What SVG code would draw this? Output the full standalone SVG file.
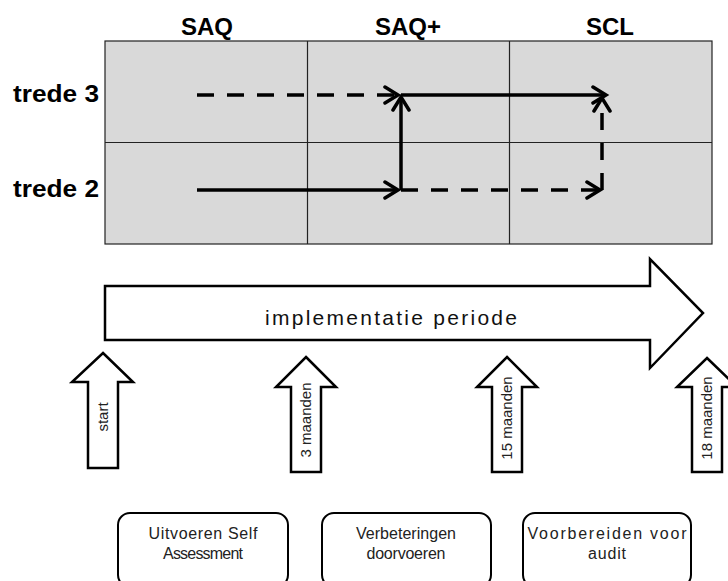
<svg xmlns="http://www.w3.org/2000/svg" width="728" height="581" viewBox="0 0 728 581">
<defs>
<style>
.hdr{font-family:"Liberation Sans",Arial,sans-serif;font-weight:bold;font-size:24px;fill:#000}
.cell{fill:#d9d9d9;stroke:#222;stroke-width:1.2}
.ln{fill:none;stroke:#000;stroke-width:3.5}
.dash{stroke-dasharray:17 13}
.big{fill:#fff;stroke:#000;stroke-width:2.5;stroke-linejoin:miter}
.lbl{font-family:"Liberation Sans",Arial,sans-serif;font-size:15px;fill:#222}
.btx{font-family:"Liberation Sans",Arial,sans-serif;font-size:16px;fill:#222}
.box{fill:#fff;stroke:#000;stroke-width:2}
</style>
<marker id="ah" markerUnits="userSpaceOnUse" markerWidth="20" markerHeight="20" viewBox="-15 -10 20 20" refX="0" refY="0" orient="auto">
<path d="M-13,-8 L0,0 L-13,8" fill="none" stroke="#000" stroke-width="3.5" stroke-linecap="round" stroke-linejoin="miter"/>
</marker>
</defs>
<rect width="728" height="581" fill="#fff"/>

<g id="headers">
<text class="hdr" x="207" y="35" text-anchor="middle">SAQ</text>
<text class="hdr" x="408" y="35" text-anchor="middle">SAQ+</text>
<text class="hdr" x="610" y="35" text-anchor="middle">SCL</text>
<text class="hdr" x="99" y="102" text-anchor="end" textLength="86" lengthAdjust="spacingAndGlyphs">trede 3</text>
<text class="hdr" x="99" y="197" text-anchor="end" textLength="86" lengthAdjust="spacingAndGlyphs">trede 2</text>
</g>

<g id="grid">
<rect class="cell" x="105" y="41" width="607" height="203"/>
<line x1="307.5" y1="41" x2="307.5" y2="244" stroke="#222" stroke-width="1.2"/>
<line x1="509.5" y1="41" x2="509.5" y2="244" stroke="#222" stroke-width="1.2"/>
<line x1="105" y1="142.5" x2="712" y2="142.5" stroke="#222" stroke-width="1.2"/>
</g>

<g id="connectors">
<line class="ln dash" x1="197" y1="95" x2="398" y2="95" marker-end="url(#ah)"/>
<line class="ln" x1="401" y1="95" x2="606" y2="95" marker-end="url(#ah)"/>
<line class="ln" x1="197" y1="190" x2="398" y2="190" marker-end="url(#ah)"/>
<line class="ln" x1="401" y1="190" x2="401" y2="97" marker-end="url(#ah)"/>
<line class="ln dash" x1="401" y1="190" x2="600" y2="190" marker-end="url(#ah)"/>
<line class="ln dash" x1="602" y1="190" x2="602" y2="98" marker-end="url(#ah)"/>
</g>

<g id="period">
<polygon class="big" points="105,286 650,286 650,259 703,313 650,368 650,340 105,340"/>
<text x="391" y="325" text-anchor="middle" font-family="'Liberation Sans',Arial,sans-serif" font-size="21" fill="#111" textLength="252" lengthAdjust="spacing">implementatie  periode</text>
</g>

<g id="m-start">
<polygon class="big" points="103,353 133,382 118,382 118,468 88,468 88,382 72,382"/>
<text class="lbl" transform="translate(108,417) rotate(-90)" text-anchor="middle">start</text>
</g>
<g id="m-3">
<polygon class="big" points="306,357 336,387 321,387 321,472 291,472 291,387 276,387"/>
<text class="lbl" transform="translate(311,420) rotate(-90)" text-anchor="middle">3 maanden</text>
</g>
<g id="m-15">
<polygon class="big" points="507,357 537,387 522,387 522,472 492,472 492,387 477,387"/>
<text class="lbl" transform="translate(512,418) rotate(-90)" text-anchor="middle">15 maanden</text>
</g>
<g id="m-18">
<polygon class="big" points="707,358 737,387 722,387 722,472 692,472 692,387 677,387"/>
<text class="lbl" transform="translate(712,418) rotate(-90)" text-anchor="middle">18 maanden</text>
</g>

<g id="box1">
<rect class="box" x="118" y="513" width="170" height="74" rx="12"/>
<text class="btx" x="203" y="539" text-anchor="middle" textLength="109" lengthAdjust="spacing">Uitvoeren Self</text>
<text class="btx" x="203" y="559" text-anchor="middle" textLength="80" lengthAdjust="spacing">Assessment</text>
</g>
<g id="box2">
<rect class="box" x="322" y="513" width="169" height="74" rx="12"/>
<text class="btx" x="406" y="539" text-anchor="middle" textLength="100" lengthAdjust="spacing">Verbeteringen</text>
<text class="btx" x="406" y="559" text-anchor="middle" textLength="79" lengthAdjust="spacing">doorvoeren</text>
</g>
<g id="box3">
<rect class="box" x="523" y="513" width="168" height="74" rx="12"/>
<text class="btx" x="607" y="539" text-anchor="middle" textLength="159" lengthAdjust="spacing">Voorbereiden voor</text>
<text class="btx" x="607" y="559" text-anchor="middle" textLength="38" lengthAdjust="spacing">audit</text>
</g>
</svg>
